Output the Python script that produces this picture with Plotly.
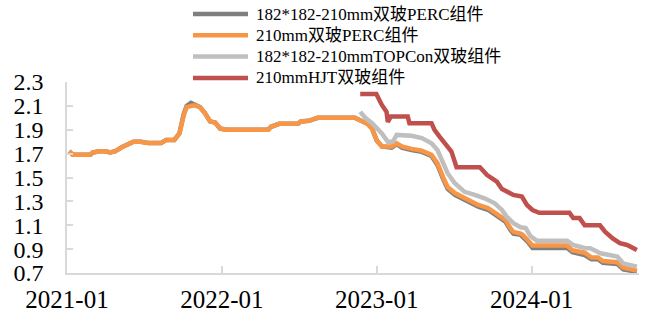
import plotly.graph_objects as go

# ---- module price series (yuan/W) ----
perc182_dates = [
    "2021-01-06", "2021-01-15", "2021-02-25", "2021-03-03", "2021-03-20", "2021-04-01",
    "2021-04-13", "2021-04-25", "2021-05-11", "2021-05-26", "2021-06-07", "2021-06-24",
    "2021-07-11", "2021-08-11", "2021-08-23", "2021-09-11", "2021-09-23", "2021-10-03",
    "2021-10-10", "2021-10-20", "2021-10-27", "2021-11-10", "2021-11-22", "2021-12-04",
    "2021-12-16", "2021-12-28", "2022-01-12", "2022-04-20", "2022-04-27", "2022-05-16",
    "2022-06-29", "2022-07-06", "2022-07-25", "2022-08-15", "2022-11-10", "2022-11-24",
    "2022-12-03", "2022-12-10", "2022-12-21", "2023-01-01", "2023-01-13", "2023-02-05",
    "2023-02-17", "2023-03-01", "2023-03-24", "2023-04-17", "2023-05-10", "2023-05-24",
    "2023-06-06", "2023-06-17", "2023-07-04", "2023-08-04", "2023-08-28", "2023-09-20",
    "2023-10-14", "2023-10-31", "2023-11-12", "2023-11-19", "2023-12-06", "2023-12-11",
    "2023-12-23", "2024-01-03", "2024-03-25", "2024-04-06", "2024-05-05", "2024-05-21",
    "2024-06-05", "2024-06-17", "2024-07-21", "2024-08-04", "2024-09-05",
]
perc182_values = [
    1.72, 1.69, 1.69, 1.71, 1.72, 1.72,
    1.71, 1.72, 1.755, 1.78, 1.80, 1.80,
    1.79, 1.79, 1.815, 1.815, 1.87, 2.03,
    2.10, 2.125, 2.11, 2.09, 2.04, 1.97,
    1.96, 1.91, 1.90, 1.90, 1.925, 1.95,
    1.95, 1.97, 1.975, 2.00, 2.00, 1.98,
    1.96, 1.95, 1.91, 1.81, 1.76, 1.75,
    1.78, 1.75, 1.73, 1.715, 1.68, 1.605,
    1.49, 1.405, 1.355, 1.295, 1.255, 1.23,
    1.175, 1.13, 1.06, 1.03, 1.02, 1.005,
    0.96, 0.91, 0.91, 0.875, 0.85, 0.815,
    0.815, 0.785, 0.775, 0.73, 0.71,
]

perc210_dates = [
    "2021-01-06", "2021-01-15", "2021-02-25", "2021-03-03", "2021-03-20", "2021-04-01",
    "2021-04-13", "2021-04-25", "2021-05-11", "2021-05-26", "2021-06-07", "2021-06-24",
    "2021-07-11", "2021-08-11", "2021-08-23", "2021-09-11", "2021-09-23", "2021-10-03",
    "2021-10-10", "2021-10-27", "2021-11-10", "2021-11-22", "2021-12-04", "2021-12-16",
    "2021-12-28", "2022-01-12", "2022-04-20", "2022-04-27", "2022-05-16", "2022-06-29",
    "2022-07-06", "2022-07-25", "2022-08-15", "2022-11-10", "2022-11-24", "2022-12-03",
    "2022-12-10", "2022-12-21", "2023-01-01", "2023-01-13", "2023-02-05", "2023-02-17",
    "2023-03-01", "2023-03-24", "2023-04-17", "2023-05-10", "2023-05-24", "2023-06-06",
    "2023-06-17", "2023-07-04", "2023-08-04", "2023-08-28", "2023-09-20", "2023-10-14",
    "2023-10-31", "2023-11-12", "2023-11-19", "2023-12-06", "2023-12-11", "2023-12-23",
    "2024-01-03", "2024-03-25", "2024-04-06", "2024-05-05", "2024-05-21", "2024-06-05",
    "2024-06-17", "2024-07-21", "2024-08-04", "2024-09-05",
]
perc210_values = [
    1.72, 1.69, 1.69, 1.71, 1.72, 1.72,
    1.71, 1.72, 1.755, 1.78, 1.80, 1.80,
    1.79, 1.79, 1.815, 1.815, 1.87, 2.02,
    2.09, 2.105, 2.09, 2.04, 1.97, 1.96,
    1.91, 1.90, 1.90, 1.925, 1.95, 1.95,
    1.97, 1.975, 2.00, 2.00, 1.98, 1.96,
    1.95, 1.91, 1.81, 1.76, 1.76, 1.785,
    1.76, 1.74, 1.725, 1.69, 1.62, 1.505,
    1.42, 1.37, 1.31, 1.27, 1.245, 1.19,
    1.145, 1.075, 1.045, 1.03, 1.02, 0.975,
    0.93, 0.93, 0.89, 0.87, 0.83, 0.83,
    0.80, 0.79, 0.745, 0.72,
]

topcon_dates = [
    "2022-11-23", "2022-12-05", "2022-12-21", "2023-01-13", "2023-01-27", "2023-02-08",
    "2023-02-17", "2023-03-24", "2023-04-17", "2023-05-10", "2023-05-24", "2023-06-06",
    "2023-06-17", "2023-07-04", "2023-07-27", "2023-08-20", "2023-09-12", "2023-10-06",
    "2023-10-23", "2023-11-03", "2023-11-19", "2023-12-06", "2023-12-18", "2023-12-29",
    "2024-01-13", "2024-03-25", "2024-04-08", "2024-05-07", "2024-05-18", "2024-06-04",
    "2024-06-11", "2024-07-21", "2024-08-04", "2024-09-05",
]
topcon_values = [
    2.05, 2.00, 1.955, 1.87, 1.80, 1.80,
    1.857, 1.85, 1.83, 1.787, 1.73, 1.633,
    1.536, 1.452, 1.38, 1.354, 1.326, 1.284,
    1.228, 1.172, 1.117, 1.083, 1.077, 1.01,
    0.971, 0.971, 0.935, 0.907, 0.907, 0.878,
    0.865, 0.837, 0.78, 0.753,
]

hjt_dates = [
    "2022-11-23", "2022-12-31", "2023-01-13", "2023-01-24", "2023-01-27", "2023-02-03",
    "2023-03-15", "2023-03-19", "2023-05-10", "2023-05-17", "2023-05-29", "2023-06-10",
    "2023-06-26", "2023-07-08", "2023-09-01", "2023-09-18", "2023-10-11", "2023-10-23",
    "2023-11-03", "2023-11-19", "2023-12-09", "2023-12-21", "2024-01-03", "2024-01-19",
    "2024-03-30", "2024-04-08", "2024-04-23", "2024-05-05", "2024-06-10", "2024-06-22",
    "2024-07-10", "2024-07-27", "2024-08-13", "2024-09-05",
]
hjt_values = [
    2.20, 2.20, 2.108, 2.05, 1.966, 2.01,
    2.01, 1.955, 1.955, 1.90, 1.842, 1.787,
    1.717, 1.586, 1.586, 1.52, 1.465, 1.404,
    1.38, 1.354, 1.34, 1.27, 1.228, 1.205,
    1.205, 1.16, 1.16, 1.10, 1.10, 1.046,
    0.99, 0.95, 0.935, 0.893,
]

series_names = [
    "182*182-210mm双玻PERC组件",
    "210mm双玻PERC组件",
    "182*182-210mmTOPCon双玻组件",
    "210mmHJT双玻组件",
]
series_colors = ["#7f7f7f", "#f79646", "#bfbfbf", "#c0504d"]
series_x = [perc182_dates, perc210_dates, topcon_dates, hjt_dates]
series_y = [perc182_values, perc210_values, topcon_values, hjt_values]

x_tick_labels = ["2021-01", "2022-01", "2023-01", "2024-01"]
x_tick_vals = ["2021-01-01", "2022-01-01", "2023-01-01", "2024-01-01"]

FONT = "Liberation Serif, Noto Sans CJK SC, serif"
AXIS_GREY = "#d9d9d9"
LINE_W = 4.5

# figure geometry (pixels)
W, H = 648, 320
M_L, M_R, M_T, M_B = 67, 9, 82, 47
PLOT_W = W - M_L - M_R
PLOT_H = H - M_T - M_B


def px_to_paper_x(px):
    return (px - M_L) / PLOT_W


def px_to_paper_y(py):
    return (H - M_B - py) / PLOT_H


fig = go.Figure()
for name, color, xs, ys in zip(series_names, series_colors, series_x, series_y):
    fig.add_trace(go.Scatter(
        x=xs, y=ys, name=name, mode="lines",
        line=dict(color=color, width=LINE_W),
        showlegend=False,
    ))

# legend block above the plot: a line sample followed by the series name
LEG_LINE_X0, LEG_LINE_X1, LEG_TEXT_X = 193, 248, 254
LEG_ROW0, LEG_ROW_STEP = 14, 21.3
for i, (name, color) in enumerate(zip(series_names, series_colors)):
    row_y = px_to_paper_y(LEG_ROW0 + i * LEG_ROW_STEP)
    fig.add_shape(
        type="line", xref="paper", yref="paper",
        x0=px_to_paper_x(LEG_LINE_X0), x1=px_to_paper_x(LEG_LINE_X1),
        y0=row_y, y1=row_y,
        line=dict(color=color, width=LINE_W),
    )
    fig.add_annotation(
        xref="paper", yref="paper",
        x=px_to_paper_x(LEG_TEXT_X), y=row_y,
        xanchor="left", yanchor="middle",
        text=name, showarrow=False,
        font=dict(size=17, family=FONT, color="#000000"),
    )

fig.update_layout(
    width=W, height=H,
    margin=dict(l=M_L, r=M_R, t=M_T, b=M_B, autoexpand=False),
    paper_bgcolor="white", plot_bgcolor="white",
    font=dict(family=FONT, color="#000000"),
    showlegend=False,
)

fig.update_xaxes(
    type="date",
    range=["2021-01-01", "2024-09-10"],
    tickvals=x_tick_vals, ticktext=x_tick_labels, tickangle=0,
    showgrid=False, zeroline=False,
    showline=True, linecolor=AXIS_GREY, linewidth=1.5,
    ticks="inside", ticklen=7, tickcolor=AXIS_GREY, tickwidth=1.5,
    tickfont=dict(size=25, family=FONT),
    ticklabelstandoff=3,
)
fig.update_yaxes(
    range=[0.7, 2.3], dtick=0.2, tick0=0.7, tickformat=".1f",
    showgrid=False, zeroline=False,
    showline=True, linecolor=AXIS_GREY, linewidth=1.5,
    ticks="inside", ticklen=6, tickcolor=AXIS_GREY, tickwidth=1.5,
    tickfont=dict(size=24, family=FONT),
    ticklabelstandoff=17,
)

fig.write_html("out.html")
